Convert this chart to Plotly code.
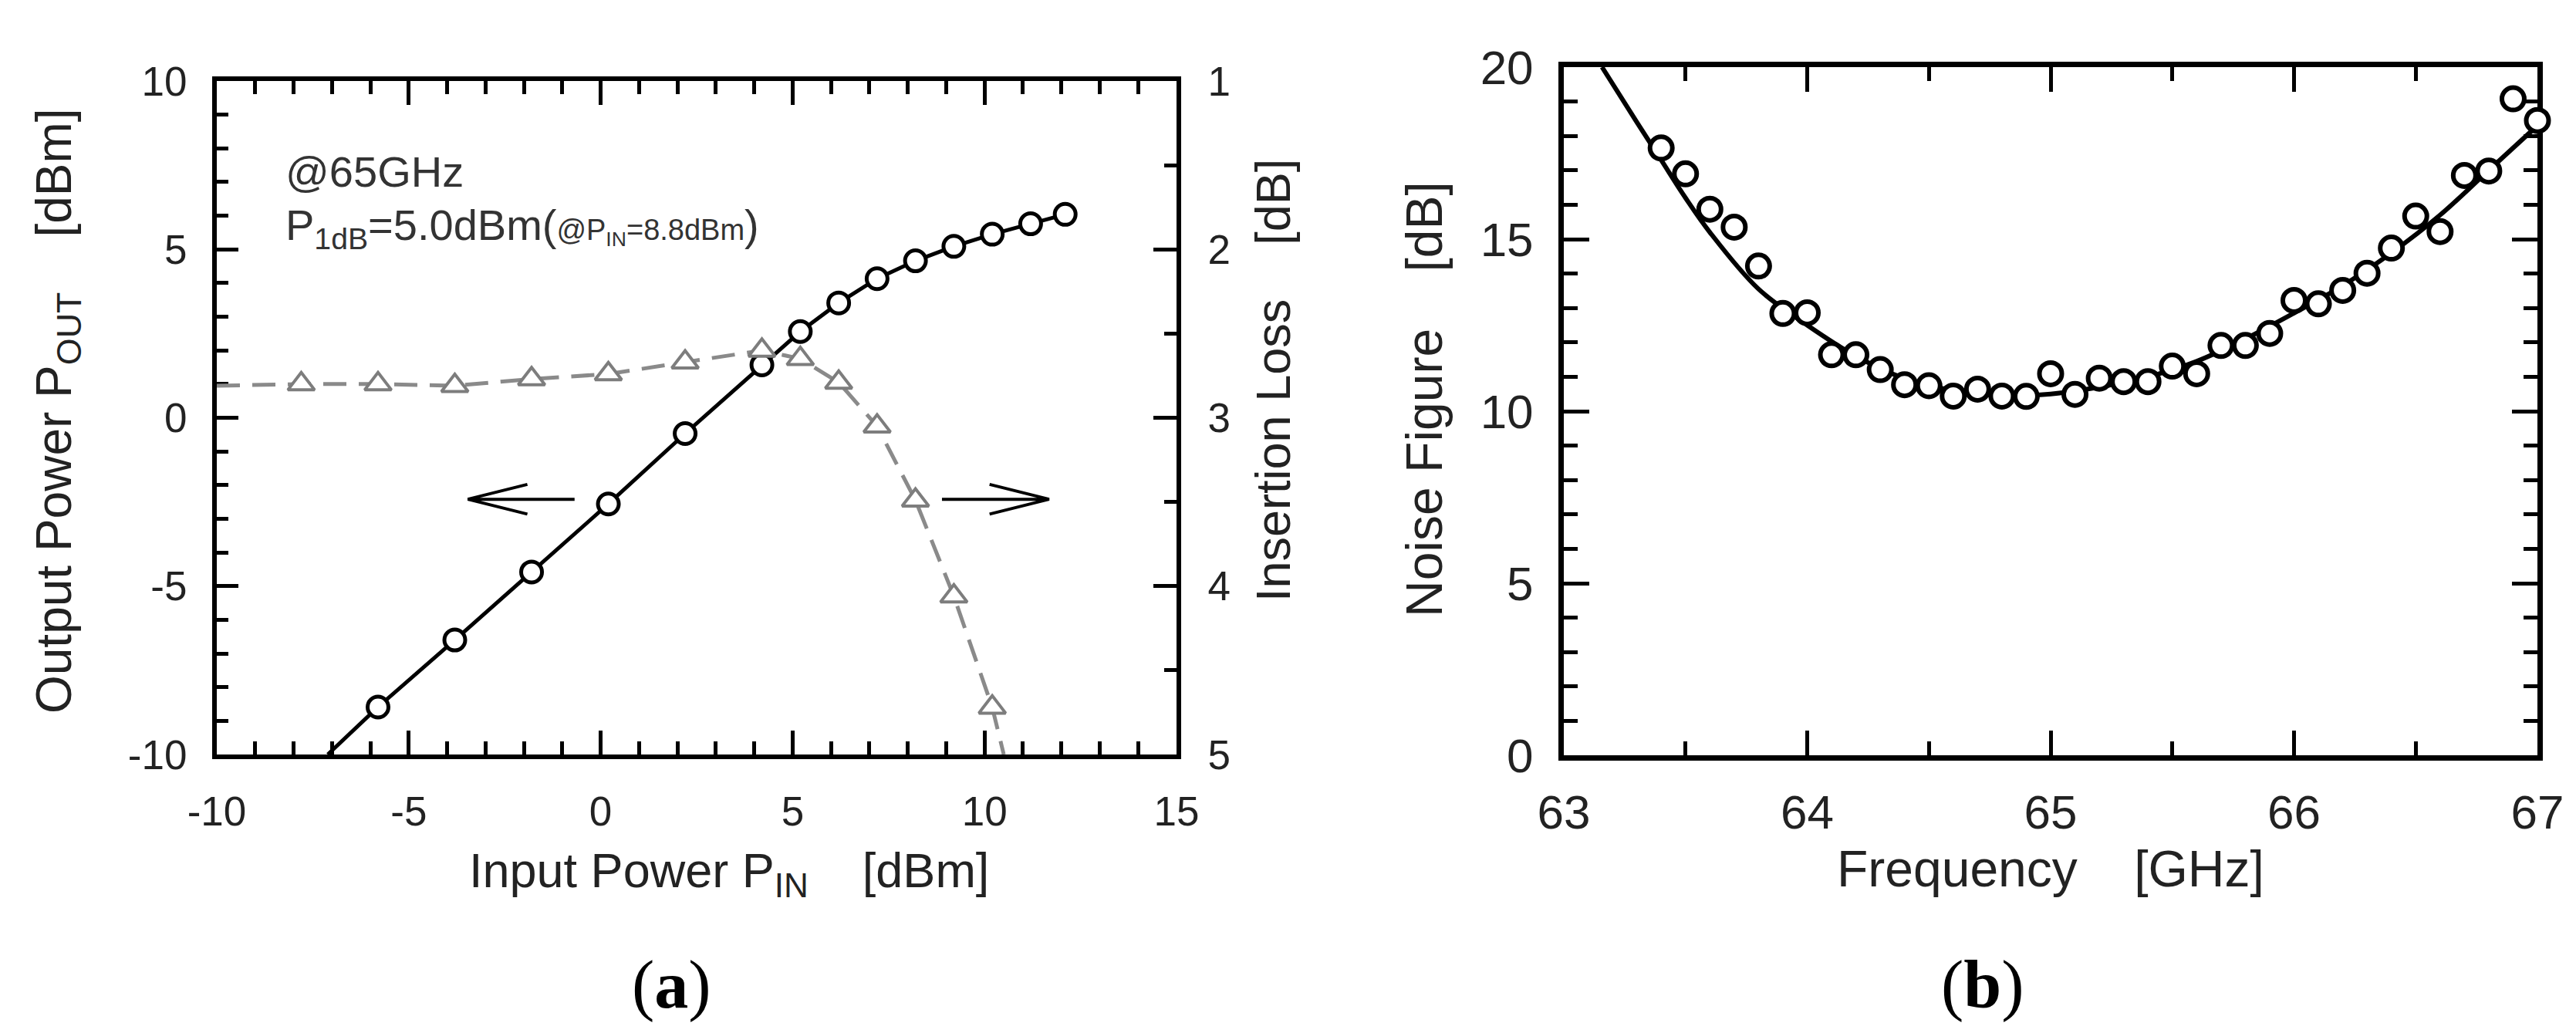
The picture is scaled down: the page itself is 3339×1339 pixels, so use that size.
import plotly.graph_objects as go

W, H = 3339, 1339

# ---------------- data : panel (a) ----------------
pin = [-5.8, -3.8, -1.8, 0.2, 2.2, 4.2, 5.2, 6.2, 7.2, 8.2, 9.2, 10.2, 11.2, 12.1]
pout = [-8.59, -6.6, -4.58, -2.56, -0.47, 1.57, 2.56, 3.41, 4.13, 4.66, 5.09, 5.45, 5.76, 6.04]
pout_line_x = [-7.11] + pin
pout_line_y = [-10.0] + pout

il_x = [-7.8, -5.8, -3.8, -1.8, 0.2, 2.2, 4.2, 5.2, 6.2, 7.2, 8.2, 9.2, 10.2]
il = [2.80, 2.80, 2.81, 2.77, 2.74, 2.67, 2.60, 2.65, 2.79, 3.05, 3.49, 4.06, 4.72]
il_line_x = [-10.0] + il_x + [10.5]
il_line_y = [2.81] + il + [5.0]

# ---------------- data : panel (b) ----------------
nf_f = [63.4, 63.5, 63.6, 63.7, 63.8, 63.9, 64.0, 64.1, 64.2, 64.3, 64.4, 64.5, 64.6,
        64.7, 64.8, 64.9, 65.0, 65.1, 65.2, 65.3, 65.4, 65.5, 65.6, 65.7, 65.8, 65.9,
        66.0, 66.1, 66.2, 66.3, 66.4, 66.5, 66.6, 66.7, 66.8, 66.9, 67.0]
nf = [17.65, 16.90, 15.87, 15.35, 14.22, 12.84, 12.86, 11.64, 11.64, 11.21, 10.77, 10.74, 10.44,
      10.64, 10.44, 10.43, 11.09, 10.49, 10.96, 10.86, 10.86, 11.31, 11.09, 11.91, 11.91, 12.26,
      13.22, 13.12, 13.51, 14.01, 14.74, 15.67, 15.22, 16.85, 16.98, 19.08, 18.45]
fit_f = [63.157, 63.3, 63.4, 63.5, 63.6, 63.8, 64.0, 64.2, 64.4, 64.6, 64.8, 65.0, 65.2,
         65.4, 65.6, 65.8, 66.0, 66.2, 66.4, 66.6, 66.8, 67.0]
fit_nf = [20.0, 18.4, 17.3, 16.2, 15.2, 13.55, 12.5, 11.6, 10.95, 10.6, 10.45, 10.5, 10.7,
          11.0, 11.45, 12.1, 12.85, 13.65, 14.6, 15.7, 17.0, 18.3]

# ---------------- axes / ticks ----------------
a_x_range, a_y_range, a_y2_range = [-10, 15], [-10, 10], [5, 1]
b_x_range, b_y_range = [63, 67], [0, 20]
a_x_ticks = [-10, -5, 0, 5, 10, 15]
a_x_text = ["-10", "-5", "0", "5", "10", "15"]
a_y_ticks = [-10, -5, 0, 5, 10]
a_y_text = ["-10", "-5", "0", "5", "10"]
a_y2_ticks = [1, 2, 3, 4, 5]
a_y2_text = ["1", "2", "3", "4", "5"]
b_x_ticks = [63, 64, 65, 66, 67]
b_x_text = ["63", "64", "65", "66", "67"]
b_y_ticks = [0, 5, 10, 15, 20]
b_y_text = ["0", "5", "10", "15", "20"]

# arrows (data units of panel a): tail x, tip x, y
arrows = [(-0.68, -3.46, -2.42), (8.89, 11.68, -2.42)]
HEAD_L, HEAD_W = 1.55, 0.44

FONT = "Liberation Sans"
TXT = "#222222"


def px_x(p):
    return p / W


def px_y(p):
    return 1 - p / H


fig = go.Figure()

fig.add_trace(go.Scatter(x=pout_line_x, y=pout_line_y, mode="lines",
                         line=dict(color="black", width=5), xaxis="x", yaxis="y",
                         showlegend=False, cliponaxis=False))
fig.add_trace(go.Scatter(x=pin, y=pout, mode="markers",
                         marker=dict(symbol="circle", size=27, color="white",
                                     line=dict(color="black", width=5)),
                         xaxis="x", yaxis="y", showlegend=False, cliponaxis=False))
fig.add_trace(go.Scatter(x=il_line_x, y=il_line_y, mode="lines",
                         line=dict(color="#8a8a8a", width=5, dash="30px,16px"),
                         xaxis="x", yaxis="y2", showlegend=False, cliponaxis=False))
fig.add_trace(go.Scatter(x=il_x, y=il, mode="markers",
                         marker=dict(symbol="triangle-up", size=30, color="white",
                                     line=dict(color="#7d7d7d", width=4)),
                         xaxis="x", yaxis="y2", showlegend=False, cliponaxis=False))

fig.add_trace(go.Scatter(x=fit_f, y=fit_nf, mode="lines", line_shape="spline",
                         line=dict(color="black", width=6), xaxis="x2", yaxis="y3",
                         showlegend=False, cliponaxis=False))
fig.add_trace(go.Scatter(x=nf_f, y=nf, mode="markers",
                         marker=dict(symbol="circle", size=29, color="white",
                                     line=dict(color="black", width=6)),
                         xaxis="x2", yaxis="y3", showlegend=False, cliponaxis=False))


def axis(rng, tv, tt, mdtick, size, ln, mln, lw, **kw):
    d = dict(range=rng, tickmode="array", tickvals=tv, ticktext=tt,
             showgrid=False, zeroline=False, showline=True, linecolor="black",
             linewidth=lw, ticks="inside", ticklen=ln, tickwidth=5, tickcolor="black",
             tickfont=dict(family=FONT, size=size, color=TXT),
             minor=dict(dtick=mdtick, tick0=min(rng), ticks="inside", ticklen=mln,
                        tickwidth=5, tickcolor="black", showgrid=False),
             layer="below traces", fixedrange=True, automargin=False)
    d.update(kw)
    return d


a_x0, a_x1, a_top, a_bot = 273, 1517, 97, 970
b_x0, b_x1, b_top, b_bot = 2019, 3281, 79, 971

fig.update_layout(
    width=W, height=H, autosize=False,
    margin=dict(l=0, r=0, t=0, b=0, pad=0, autoexpand=False),
    paper_bgcolor="white", plot_bgcolor="white", showlegend=False,
    xaxis=axis(a_x_range, a_x_ticks, a_x_text, 1, 53, 31, 17, 6,
               domain=[px_x(a_x0), px_x(a_x1)], anchor="y", mirror="ticks",
               ticklabelstandoff=22),
    yaxis=axis(a_y_range, a_y_ticks, a_y_text, 1, 53, 28, 15, 6,
               domain=[px_y(a_bot), px_y(a_top)], anchor="x", mirror=False,
               ticklabelstandoff=22),
    yaxis2=axis(a_y2_range, a_y2_ticks, a_y2_text, 0.5, 53, 30, 16, 6,
                overlaying="y", side="right", anchor="x", mirror=False,
                autorange=False, ticklabelstandoff=24),
    xaxis2=axis(b_x_range, b_x_ticks, b_x_text, 0.5, 62, 32, 18, 7,
                domain=[px_x(b_x0), px_x(b_x1)], anchor="y3", mirror="ticks",
                ticklabelstandoff=14),
    yaxis3=axis(b_y_range, b_y_ticks, b_y_text, 1, 62, 33, 18, 7,
                domain=[px_y(b_bot), px_y(b_top)], anchor="x2", mirror="ticks",
                ticklabelstandoff=20),
)

shapes = []
for xt, xh, y in arrows:
    s = 1 if xh > xt else -1
    path = (f"M{xt},{y} L{xh},{y} M{xh - s * HEAD_L},{y + HEAD_W} "
            f"L{xh},{y} L{xh - s * HEAD_L},{y - HEAD_W}")
    shapes.append(dict(type="path", xref="x", yref="y", path=path,
                       line=dict(color="black", width=4)))
fig.update_layout(shapes=shapes)

NB = "\u00a0"
ann = []


def add_text(text, x, y, size, angle=0, xanchor="center", yanchor="middle",
             family=FONT, color=TXT):
    ann.append(dict(text=text, x=px_x(x), y=px_y(y), xref="paper", yref="paper",
                    showarrow=False, textangle=angle, xanchor=xanchor, yanchor=yanchor,
                    font=dict(family=family, size=size, color=color)))


# panel (a) texts
add_text("@65GHz", 360, 214, 56, xanchor="left", color="#333333")
add_text("P<sub>1dB</sub>=5.0dBm(<span style='font-size:38px'>@P<sub>IN</sub>=8.8dBm</span>)",
         360, 288, 56, xanchor="left", color="#333333")
add_text("Output Power P<sub>OUT</sub>" + NB * 4 + "[dBm]", 66, 525, 64, angle=-90)
add_text("Input Power P<sub>IN</sub>" + NB * 4 + "[dBm]", 937, 1124, 63)
add_text("Insertion Loss" + NB * 4 + "[dB]", 1642, 485, 63, angle=-90)
add_text("(<b>a</b>)", 862, 1268, 88, family="Liberation Serif", color="black")

# panel (b) texts
add_text("Noise Figure" + NB * 4 + "[dB]", 1838, 510, 66, angle=-90)
add_text("Frequency" + NB * 4 + "[GHz]", 2650, 1118, 66)
add_text("(<b>b</b>)", 2562, 1268, 88, family="Liberation Serif", color="black")

fig.update_layout(annotations=ann)

fig.write_html("out.html")
